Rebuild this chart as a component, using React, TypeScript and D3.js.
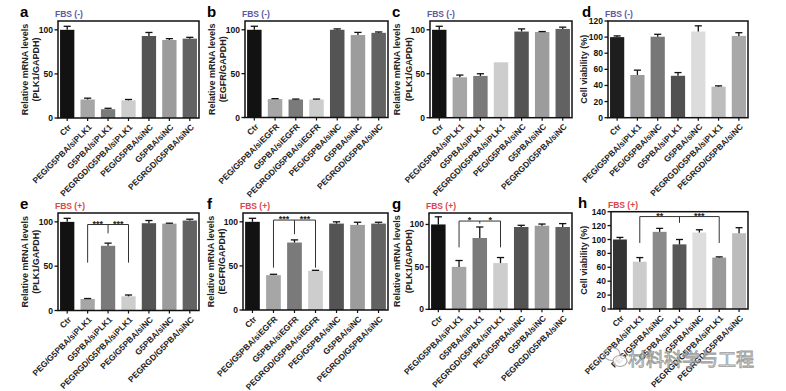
import React from "react";
import { scaleBand, scaleLinear, range } from "d3";

const plkLabels = ["Ctr", "PEG/G5PBA/siPLK1", "G5PBA/siPLK1", "PEGRGD/G5PBA/siPLK1", "PEG/G5PBA/siNC", "G5PBA/siNC", "PEGRGD/G5PBA/siNC"];
const egfrLabels = ["Ctr", "PEG/G5PBA/siEGFR", "G5PBA/siEGFR", "PEGRGD/G5PBA/siEGFR", "PEG/G5PBA/siNC", "G5PBA/siNC", "PEGRGD/G5PBA/siNC"];
const viabilityLabels = ["Ctr", "PEG/G5PBA/siPLK1", "PEG/G5PBA/siNC", "G5PBA/siPLK1", "G5PBA/siNC", "PEGRGD/G5PBA/siPLK1", "PEGRGD/G5PBA/siNC"];

const aValues = [100, 21, 10, 20, 93, 88.5, 90];
const aErrors = [4, 1.5, 1, 1, 4, 1.5, 1.5];
const bValues = [100, 21, 20.5, 20.5, 100, 94, 96.5];
const bErrors = [4, 0.5, 0.5, 0.5, 1, 3, 1];
const cValues = [100, 46, 47.5, 63, 98, 97.5, 101];
const cErrors = [4, 2.5, 2.5, 0, 3, 0.5, 2];
const dValues = [100, 53, 100.5, 52, 107, 38.5, 101.5];
const dErrors = [1.5, 6, 3, 4, 7, 1, 4];
const eValues = [100, 13, 73, 16, 98.5, 98, 101.5];
const eErrors = [4, 0.5, 3, 1.5, 3, 0.5, 1.5];
const fValues = [100, 39.5, 76.5, 44.5, 98, 96.5, 98];
const fErrors = [4, 1, 3, 0.5, 2, 3, 1.5];
const gValues = [100, 50, 84, 54.5, 97, 98.5, 97];
const gErrors = [9, 7.5, 13, 6.5, 2, 2, 4];
const hValues = [100, 68, 111, 93, 110, 74, 109];
const hErrors = [3, 6, 5, 7, 4, 1, 8];

const mrnaTicks = [0, 50, 100];
const viabilityTicks = range(0, 121, 20);
const viabilityTicksH = range(0, 141, 20);

const colorsMrna = ["#121212", "#a6a6a6", "#7a7a7a", "#cdcdcd", "#545454", "#9c9c9c", "#626262"];
const colorsD = ["#1e1e1e", "#9a9a9a", "#777777", "#505050", "#dcdcdc", "#bdbdbd", "#a8a8a8"];
const colorsH = ["#333333", "#cccccc", "#8a8a8a", "#575757", "#dddddd", "#9a9a9a", "#bcbcbc"];

type Bracket = { left: number; mid: number; right: number; y: number; sideEnd: number; midEnd: number; stars: string[] };

const bracketE: Bracket = { left: 1, mid: 2, right: 3, y: 97, sideEnd: 54, midEnd: 87, stars: ["***", "***"] };
const bracketF: Bracket = { left: 1, mid: 2, right: 3, y: 102, sideEnd: 48, midEnd: 86, stars: ["***", "***"] };
const bracketG: Bracket = { left: 1, mid: 2, right: 3, y: 104, sideEnd: 73, midEnd: 101, stars: ["*", "*"] };
const bracketH: Bracket = { left: 1, mid: 3, right: 5, y: 133, sideEnd: 95, midEnd: 124, stars: ["**", "***"] };

const FONT = "Liberation Sans, Arial, sans-serif";

type PanelProps = {
  letter: string;
  letterX: number;
  x0: number;
  x1: number;
  top: number;
  bottom: number;
  yMax: number;
  ticks: number[];
  labels: string[];
  values: number[];
  errors: number[];
  colors: string[];
  title: string[];
  titleX: number[];
  fbs: string;
  bracket?: Bracket;
};

function Panel(p: PanelProps) {
  const x = scaleBand<string>().domain(p.labels).range([p.x0, p.x1]).paddingInner(0.3).paddingOuter(0.1);
  const y = scaleLinear().domain([0, p.yMax]).range([p.bottom, p.top]);
  const bw = x.bandwidth();
  const cx = (i: number) => (x(p.labels[i]) as number) + bw / 2;
  const plus = p.fbs === "+";
  const midY = (p.top + p.bottom) / 2;
  return (
    <g fontFamily={FONT}>
      <text x={p.letterX} y={p.top - 4} fontSize={15} fontWeight="bold">{p.letter}</text>
      <text x={p.x0 - 3} y={p.top - 4} fontSize={8.5} fontWeight="bold" fill={plus ? "#d9474a" : "#5b5aa6"}>
        {plus ? "FBS (+)" : "FBS (-)"}
      </text>
      {p.title.map((t, i) => (
        <text key={t} transform={`translate(${p.titleX[i]},${midY}) rotate(-90)`} textAnchor="middle" dominantBaseline="central" fontSize={9} fontWeight="bold" fill="#222">
          {t}
        </text>
      ))}
      {p.values.map((v, i) => (
        <g key={i}>
          <rect x={x(p.labels[i])} y={y(v)} width={bw} height={p.bottom - y(v)} fill={p.colors[i]} />
          {p.errors[i] > 0 && (
            <g stroke="#111" strokeWidth={1.3}>
              <line x1={cx(i)} x2={cx(i)} y1={y(v)} y2={y(v + p.errors[i])} />
              <line x1={cx(i) - bw / 4} x2={cx(i) + bw / 4} y1={y(v + p.errors[i])} y2={y(v + p.errors[i])} />
            </g>
          )}
        </g>
      ))}
      <rect x={p.x0} y={p.top} width={p.x1 - p.x0} height={p.bottom - p.top} fill="none" stroke="#111" strokeWidth={1.5} />
      {p.ticks.map((t) => (
        <g key={t}>
          <line x1={p.x0 - 3.5} x2={p.x0} y1={y(t)} y2={y(t)} stroke="#111" strokeWidth={1.3} />
          <text x={p.x0 - 5} y={y(t)} textAnchor="end" dominantBaseline="central" fontSize={8.5} fontWeight="bold" fill="#111">{t}</text>
        </g>
      ))}
      {p.labels.map((l, i) => (
        <g key={l}>
          <line x1={cx(i)} x2={cx(i)} y1={p.bottom} y2={p.bottom + 3} stroke="#111" strokeWidth={1.2} />
          <text transform={`translate(${cx(i) + 2.5},${p.bottom + 7.5}) rotate(-45)`} textAnchor="end" dominantBaseline="central" fontSize={8.4} fontWeight="bold" fill="#222">
            {l}
          </text>
        </g>
      ))}
      {p.bracket && (
        <g stroke="#333" strokeWidth={1} fill="none">
          <line x1={cx(p.bracket.left)} x2={cx(p.bracket.right)} y1={y(p.bracket.y)} y2={y(p.bracket.y)} />
          <line x1={cx(p.bracket.left)} x2={cx(p.bracket.left)} y1={y(p.bracket.y)} y2={y(p.bracket.sideEnd)} />
          <line x1={cx(p.bracket.right)} x2={cx(p.bracket.right)} y1={y(p.bracket.y)} y2={y(p.bracket.sideEnd)} />
          <line x1={cx(p.bracket.mid)} x2={cx(p.bracket.mid)} y1={y(p.bracket.y)} y2={y(p.bracket.midEnd)} />
        </g>
      )}
      {p.bracket &&
        p.bracket.stars.map((s, i) => {
          const a = i === 0 ? p.bracket!.left : p.bracket!.mid;
          const b = i === 0 ? p.bracket!.mid : p.bracket!.right;
          return (
            <text key={i} x={(cx(a) + cx(b)) / 2} y={y(p.bracket!.y) + 2} textAnchor="middle" fontSize={9} fontWeight="bold" fill="#222">
              {s}
            </text>
          );
        })}
    </g>
  );
}

export default function App() {
  const mrnaTitle = (gene: string) => ["Relative mRNA levels", `(${gene}/GAPDH)`];
  return (
    <svg width={786} height={391} style={{ position: "absolute", left: 0, top: 0, background: "#fff" }}>
      <rect width={786} height={391} fill="#fff" />
      <Panel letter="a" letterX={20} x0={58} x1={199} top={21} bottom={118} yMax={110} ticks={mrnaTicks} labels={plkLabels} values={aValues} errors={aErrors} colors={colorsMrna} title={mrnaTitle("PLK1")} titleX={[25, 36]} fbs="-" />
      <Panel letter="b" letterX={207} x0={245} x1={388} top={21} bottom={117.5} yMax={110} ticks={mrnaTicks} labels={egfrLabels} values={bValues} errors={bErrors} colors={colorsMrna} title={mrnaTitle("EGFR")} titleX={[212, 223]} fbs="-" />
      <Panel letter="c" letterX={392} x0={430} x1={572} top={21} bottom={117.7} yMax={110} ticks={mrnaTicks} labels={plkLabels} values={cValues} errors={cErrors} colors={colorsMrna} title={mrnaTitle("PLK1")} titleX={[397, 409]} fbs="-" />
      <Panel letter="d" letterX={582} x0={608} x1={748} top={21} bottom={117.7} yMax={120} ticks={viabilityTicks} labels={viabilityLabels} values={dValues} errors={dErrors} colors={colorsD} title={["Cell viability (%)"]} titleX={[584]} fbs="-" />
      <Panel letter="e" letterX={20} x0={58} x1={199} top={213} bottom={310.5} yMax={110} ticks={mrnaTicks} labels={plkLabels} values={eValues} errors={eErrors} colors={colorsMrna} title={mrnaTitle("PLK1")} titleX={[25, 36]} fbs="+" bracket={bracketE} />
      <Panel letter="f" letterX={207} x0={243} x1={388} top={213} bottom={310} yMax={110} ticks={mrnaTicks} labels={egfrLabels} values={fValues} errors={fErrors} colors={colorsMrna} title={mrnaTitle("EGFR")} titleX={[211, 222]} fbs="+" bracket={bracketF} />
      <Panel letter="g" letterX={392} x0={429} x1={572} top={213} bottom={309.3} yMax={113.5} ticks={mrnaTicks} labels={plkLabels} values={gValues} errors={gErrors} colors={colorsMrna} title={mrnaTitle("PLK1")} titleX={[397, 409]} fbs="+" bracket={bracketG} />
      <Panel letter="h" letterX={578} x0={611} x1={748} top={211.7} bottom={309} yMax={140} ticks={viabilityTicksH} labels={viabilityLabels} values={hValues} errors={hErrors} colors={colorsH} title={["Cell viability (%)"]} titleX={[584]} fbs="+" bracket={bracketH} />
      <g opacity={0.85}>
        <ellipse cx={612} cy={354} rx={8} ry={6.5} fill="none" stroke="#9a9a9a" strokeWidth={1.2} />
        <ellipse cx={620} cy={361} rx={7} ry={5.5} fill="#fff" stroke="#9a9a9a" strokeWidth={1.2} />
        <text x={628} y={366} fontFamily="Noto Sans CJK SC" fontSize={18} fill="#fff" stroke="#8a8a8a" strokeWidth={0.9}>
          材料科学与工程
        </text>
      </g>
    </svg>
  );
}
